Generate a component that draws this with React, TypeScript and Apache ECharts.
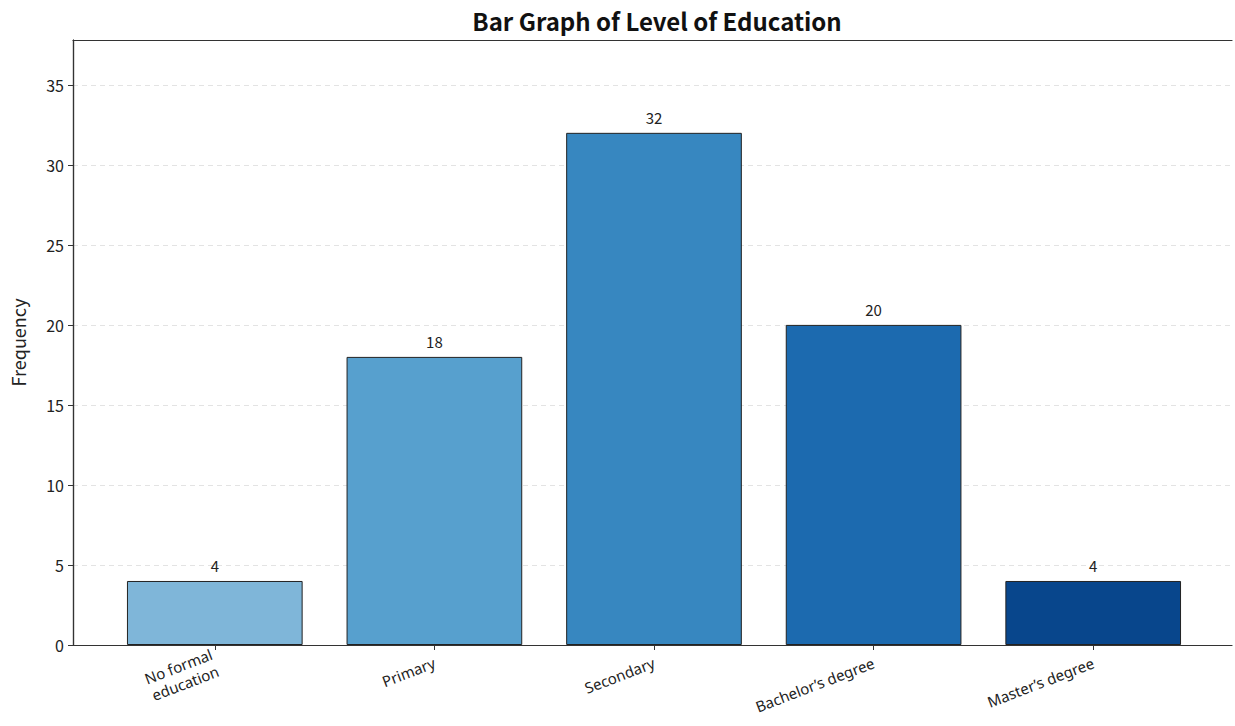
import React, { useEffect, useRef } from "react";
import * as echarts from "echarts";

const categories = ["No formal\neducation", "Primary", "Secondary", "Bachelor’s degree", "Master’s degree"];
const frequencies = [4, 18, 32, 20, 4];
const barColors = ["#7fb6d9", "#57a0ce", "#3787c0", "#1c6aaf", "#08468c"];
const yTicks = [0, 5, 10, 15, 20, 25, 30, 35];

const FONT = "'Noto Sans CJK SC', 'Noto Sans', sans-serif";
const LATIN = "'Noto Sans', sans-serif";

export default function App() {
  const ref = useRef<HTMLDivElement>(null);
  useEffect(() => {
    if (!ref.current) return;
    const chart = echarts.init(ref.current, undefined, { renderer: "svg" });
    const yMax = 37.8;
    chart.setOption({
      animation: false,
      backgroundColor: "#ffffff",
      title: {
        text: "Bar Graph of Level of Education",
        left: 652,
        textAlign: "center",
        top: 3,
        textStyle: { fontFamily: FONT, fontSize: 24, fontWeight: "bold", color: "#111" },
      },
      grid: [
        { left: 73, right: 3, top: 40, bottom: 81, show: false },
        { left: 105, right: 32, top: 40, bottom: 81, show: false },
      ],
      xAxis: [
        {
          gridIndex: 0,
          type: "value",
          min: 0,
          max: 1,
          position: "bottom",
          axisLine: { show: true, onZero: false, lineStyle: { color: "#333", width: 1.2 } },
          axisTick: { show: false },
          axisLabel: { show: false },
          splitLine: { show: false },
        },
        {
          gridIndex: 0,
          type: "value",
          min: 0,
          max: 1,
          position: "top",
          axisLine: { show: true, onZero: false, lineStyle: { color: "#333", width: 1.2 } },
          axisTick: { show: false },
          axisLabel: { show: false },
          splitLine: { show: false },
        },
        {
          gridIndex: 1,
          type: "category",
          data: categories,
          axisLine: { show: false },
          axisTick: { show: true, alignWithLabel: true, length: 5, lineStyle: { color: "#333" } },
          axisLabel: {
            rotate: 21,
            fontFamily: LATIN,
            fontSize: 15,
            color: "#222",
            margin: 17,
            lineHeight: 18,
          },
        },
      ],
      yAxis: [
        {
          gridIndex: 0,
          type: "value",
          min: 0,
          max: yMax,
          interval: 5,
          name: "Frequency",
          nameLocation: "middle",
          nameGap: 46,
          nameTextStyle: { fontFamily: FONT, fontSize: 18, color: "#222" },
          axisLine: { show: true, lineStyle: { color: "#333", width: 1.2 } },
          axisTick: { show: true, length: 5, lineStyle: { color: "#333" }, customValues: yTicks },
          axisLabel: {
            fontFamily: FONT,
            fontSize: 16,
            color: "#222",
            margin: 9,
            customValues: yTicks,
          },
          splitLine: { show: true, lineStyle: { color: "#e3e3e3", type: [5, 4], width: 1 } },
        },
        {
          gridIndex: 0,
          type: "value",
          min: 0,
          max: yMax,
          position: "right",
          axisLine: { show: true, lineStyle: { color: "#333", width: 1.2 } },
          axisTick: { show: false },
          axisLabel: { show: false },
          splitLine: { show: false },
        },
        {
          gridIndex: 1,
          type: "value",
          min: 0,
          max: yMax,
          show: false,
          splitLine: { show: false },
        },
      ],
      series: [
        {
          type: "bar",
          xAxisIndex: 2,
          yAxisIndex: 2,
          barWidth: "80%",
          data: frequencies.map((v, i) => ({
            value: v,
            itemStyle: { color: barColors[i], borderColor: "#222", borderWidth: 1 },
          })),
          label: {
            show: true,
            position: "top",
            distance: 8,
            fontFamily: FONT,
            fontSize: 15,
            color: "#222",
          },
        },
      ],
    });
    return () => chart.dispose();
  }, []);
  return <div ref={ref} style={{ width: 1235, height: 726, position: "absolute", left: 0, top: 0 }} />;
}
